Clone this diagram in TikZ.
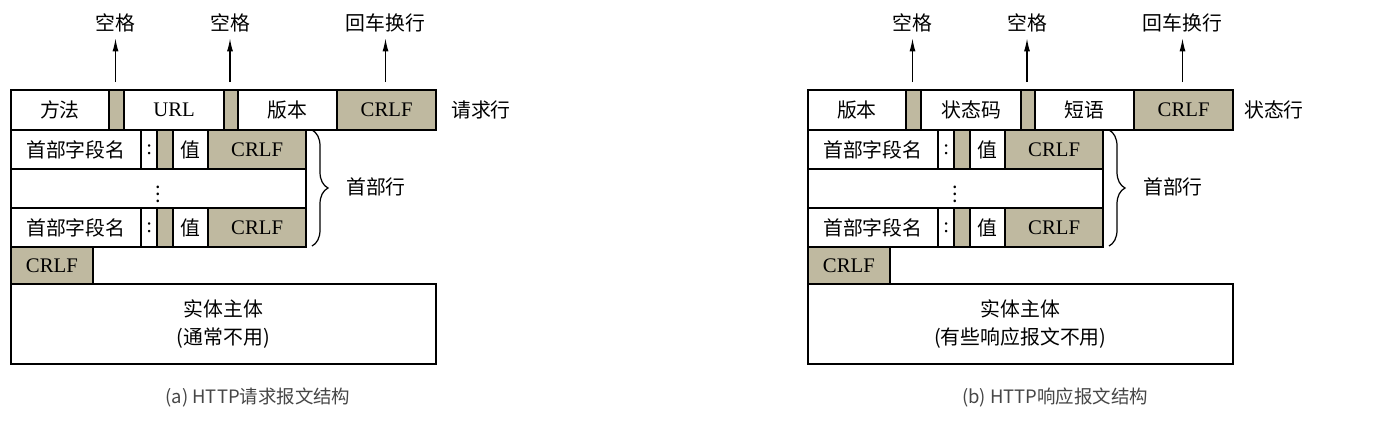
\documentclass[tikz,border=0pt]{standalone}
\usepackage{fontspec}
\setmainfont{Liberation Serif}
\newfontfamily\cjk{Noto Sans CJK SC}
\usetikzlibrary{arrows.meta,decorations.pathreplacing}
\definecolor{fieldtan}{RGB}{191,185,160}
\definecolor{capgray}{RGB}{70,70,70}

\begin{document}
\begin{tikzpicture}[x=0.02cm, y=-0.02cm, font=\cjk\fontsize{11.3}{15.5}\selectfont,
    fld/.style={draw, line width=1.3pt, fill=white, anchor=north west, inner sep=0pt, minimum width=#1*0.02cm},
    gry/.style={fld=#1, fill=fieldtan},
    ht/.style={minimum height=#1*0.02cm},
    lat/.style={font=\rmfamily\fontsize{11.8}{14}\selectfont},
    arr/.style={-{Latex[length=0.26cm,width=0.12cm]}, line width=0.7pt},
    brc/.style={decorate, decoration={brace, amplitude=0.32cm}, line width=0.7pt},
    captxt/.style={font=\cjk\fontsize{10.5}{12}\selectfont, text=capgray}]
  \useasboundingbox (0,0) rectangle (1393,420);

  % (a) request
  \begin{scope}[name prefix=L-]
    \node[fld=98.5, ht=40] (m) at (9.5,89) {方法};
    \node[gry=15, ht=40] (g1) at (108,89) {};
    \node[fld=100, ht=40, lat] (u) at (123,89) {URL};
    \node[gry=14, ht=40] (g2) at (223,89) {};
    \node[fld=99, ht=40] (v) at (237,89) {版本};
    \node[gry=99, ht=40, lat] (cr) at (336,89) {CRLF};
    \node (side) at (481,110) {请求行};
    \node (s1) at (115.5,23) {空格};
    \node (s2) at (230,23) {空格};
    \node (s3) at (385.5,23) {回车换行};
    \coordinate (t1) at (115.5,82);
    \coordinate (t2) at (230,82);
    \coordinate (t3) at (385.5,82);
    \draw[arr] (t1) -- (s1);
    \draw[arr] (t2) -- (s2);
    \draw[arr] (t3) -- (s3);
    \node[fld=130.5, ht=39] (h1) at (9.5,129) {首部字段名};
    \node[fld=16, ht=39, lat] (c1) at (140,129) {:};
    \node[gry=16, ht=39] (k1) at (156,129) {};
    \node[fld=35, ht=39] (v1) at (172,129) {值};
    \node[gry=98, ht=39, lat] (e1) at (207,129) {CRLF};
    \node[fld=295.5, ht=39] (h2) at (9.5,168) {$\vdots$};
    \node[fld=130.5, ht=39] (h3) at (9.5,207) {首部字段名};
    \node[fld=16, ht=39, lat] (c3) at (140,207) {:};
    \node[gry=16, ht=39] (k3) at (156,207) {};
    \node[fld=35, ht=39] (v3) at (172,207) {值};
    \node[gry=98, ht=39, lat] (e3) at (207,207) {CRLF};
    \coordinate (bt) at (312,130);
    \coordinate (bb) at (312,246);
    \draw[brc] (bt) -- (bb);
    \node (hl) at (376,187) {首部行};
    \node[gry=82.5, ht=37, lat] (blank) at (9.5,246) {CRLF};
    \node[fld=425.5, ht=80, align=center] (body) at (9.5,283) {实体主体\\(通常不用)};
    \node[captxt] (capt) at (258,397) {(a) HTTP请求报文结构};
  \end{scope}

  % (b) response
  \begin{scope}[shift={(797,0)}, name prefix=R-]
    \node[fld=98.5, ht=40] (v) at (9.5,89) {版本};
    \node[gry=15, ht=40] (g1) at (108,89) {};
    \node[fld=100, ht=40] (sc) at (123,89) {状态码};
    \node[gry=14, ht=40] (g2) at (223,89) {};
    \node[fld=99, ht=40] (ph) at (237,89) {短语};
    \node[gry=99, ht=40, lat] (cr) at (336,89) {CRLF};
    \node (side) at (477,110) {状态行};
    \node (s1) at (115.5,23) {空格};
    \node (s2) at (230,23) {空格};
    \node (s3) at (385.5,23) {回车换行};
    \coordinate (t1) at (115.5,82);
    \coordinate (t2) at (230,82);
    \coordinate (t3) at (385.5,82);
    \draw[arr] (t1) -- (s1);
    \draw[arr] (t2) -- (s2);
    \draw[arr] (t3) -- (s3);
    \node[fld=130.5, ht=39] (h1) at (9.5,129) {首部字段名};
    \node[fld=16, ht=39, lat] (c1) at (140,129) {:};
    \node[gry=16, ht=39] (k1) at (156,129) {};
    \node[fld=35, ht=39] (v1) at (172,129) {值};
    \node[gry=98, ht=39, lat] (e1) at (207,129) {CRLF};
    \node[fld=295.5, ht=39] (h2) at (9.5,168) {$\vdots$};
    \node[fld=130.5, ht=39] (h3) at (9.5,207) {首部字段名};
    \node[fld=16, ht=39, lat] (c3) at (140,207) {:};
    \node[gry=16, ht=39] (k3) at (156,207) {};
    \node[fld=35, ht=39] (v3) at (172,207) {值};
    \node[gry=98, ht=39, lat] (e3) at (207,207) {CRLF};
    \coordinate (bt) at (312,130);
    \coordinate (bb) at (312,246);
    \draw[brc] (bt) -- (bb);
    \node (hl) at (376,187) {首部行};
    \node[gry=82.5, ht=37, lat] (blank) at (9.5,246) {CRLF};
    \node[fld=425.5, ht=80, align=center] (body) at (9.5,283) {实体主体\\(有些响应报文不用)};
    \node[captxt] (capt) at (258,397) {(b) HTTP响应报文结构};
  \end{scope}
\end{tikzpicture}
\end{document}
